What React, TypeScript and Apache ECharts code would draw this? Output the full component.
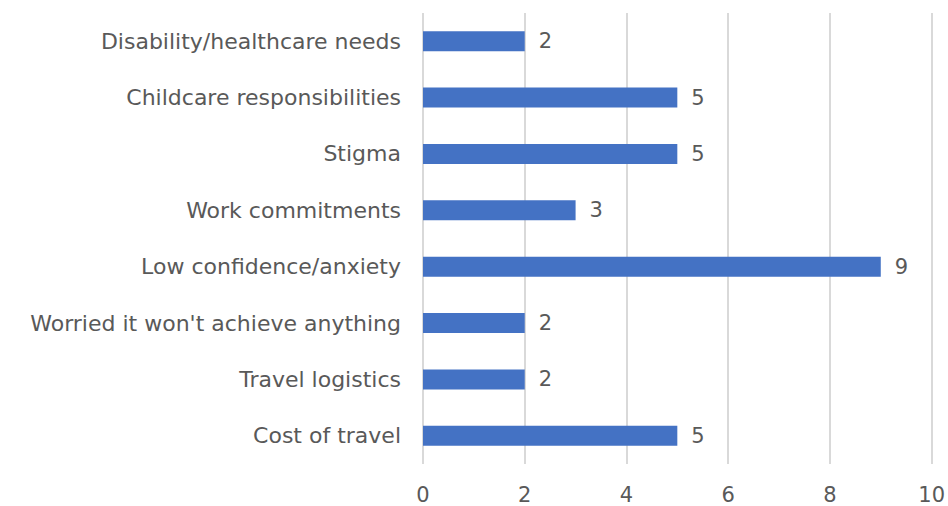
import React, { useEffect, useRef } from "react";
import * as echarts from "echarts";

const categories = [
  "Cost of travel",
  "Travel logistics",
  "Worried it won't achieve anything",
  "Low confidence/anxiety",
  "Work commitments",
  "Stigma",
  "Childcare responsibilities",
  "Disability/healthcare needs",
];
const values = [5, 2, 2, 9, 3, 5, 5, 2];
const xTicks = [0, 2, 4, 6, 8, 10];

const FONT = "'DejaVu Sans', sans-serif";
const TEXT = "#595959";

export default function App() {
  const ref = useRef<HTMLDivElement>(null);
  useEffect(() => {
    if (!ref.current) return;
    const chart = echarts.init(ref.current, undefined, { renderer: "svg" });
    chart.setOption({
      animation: false,
      backgroundColor: "#ffffff",
      grid: { left: 423, right: 16, top: 13, bottom: 42, containLabel: false },
      xAxis: {
        type: "value",
        min: xTicks[0],
        max: xTicks[xTicks.length - 1],
        interval: 2,
        axisLine: { show: false },
        axisTick: { show: false },
        splitLine: { show: true, lineStyle: { color: "#d9d9d9", width: 2 } },
        axisLabel: { color: TEXT, fontSize: 21, fontFamily: FONT, margin: 20 },
      },
      yAxis: {
        type: "category",
        data: categories,
        axisLine: { show: false },
        axisTick: { show: false },
        axisLabel: { color: TEXT, fontSize: 22, fontFamily: FONT, margin: 22 },
      },
      series: [
        {
          type: "bar",
          data: values,
          barWidth: 20,
          itemStyle: { color: "#4472C4" },
          label: {
            show: true,
            position: "right",
            distance: 14,
            color: TEXT,
            fontSize: 21,
            fontFamily: FONT,
          },
        },
      ],
    });
    return () => chart.dispose();
  }, []);
  return (
    <div
      ref={ref}
      style={{ position: "fixed", left: 0, top: 0, width: 948, height: 506 }}
    />
  );
}
